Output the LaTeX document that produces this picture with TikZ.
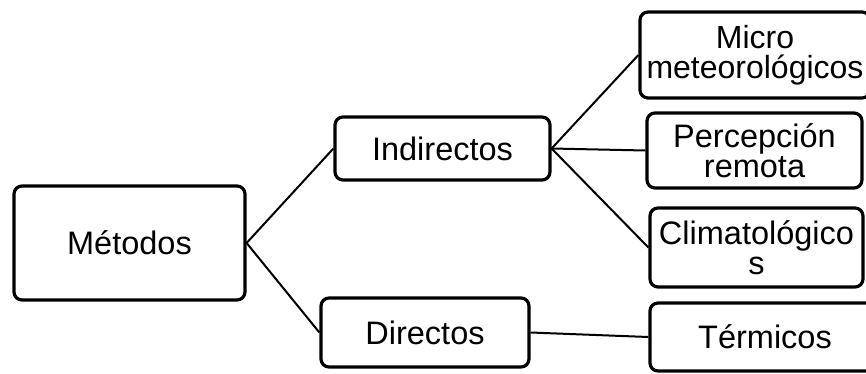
\documentclass[tikz,border=0pt]{standalone}
\usepackage{fontspec}
\setmainfont{Liberation Sans}
\begin{document}
\begin{tikzpicture}[x=1pt,y=-1pt,
  box/.style={draw=black, line width=3.2pt, rounded corners=8pt, fill=white,
    inner sep=0pt, align=center, font=\fontsize{32.5}{30}\selectfont},
  link/.style={draw=black, line width=2pt}]
\useasboundingbox (0,0) rectangle (866,373);
\clip (0,0) rectangle (866,373);
\node[box, minimum width=231pt, minimum height=114pt] (met) at (129.5,243) {Métodos};
\node[box, minimum width=215pt, minimum height=63pt] (ind) at (442.5,148.5) {Indirectos};
\node[box, minimum width=208pt, minimum height=69pt] (dir) at (425,332.5) {Directos};
\node[box, minimum width=230pt, minimum height=86pt, font=\fontsize{32}{30}\selectfont] (mic) at (755,55) {Micro\\meteorológicos};
\node[box, minimum width=215pt, minimum height=75pt] (per) at (754.5,150.5) {Percepción\\remota};
\node[box, minimum width=213pt, minimum height=79pt] (cli) at (756.5,247.5) {Climatológico\\s};
\node[box, minimum width=230pt, minimum height=68pt] (ter) at (765,337) {Térmicos};
\draw[link] (met.east) -- (ind.west);
\draw[link] (met.east) -- (dir.west);
\draw[link] (ind.east) -- (mic.west);
\draw[link] (ind.east) -- (per.west);
\draw[link] (ind.east) -- (cli.west);
\draw[link] (dir.east) -- (ter.west);
\end{tikzpicture}
\end{document}
